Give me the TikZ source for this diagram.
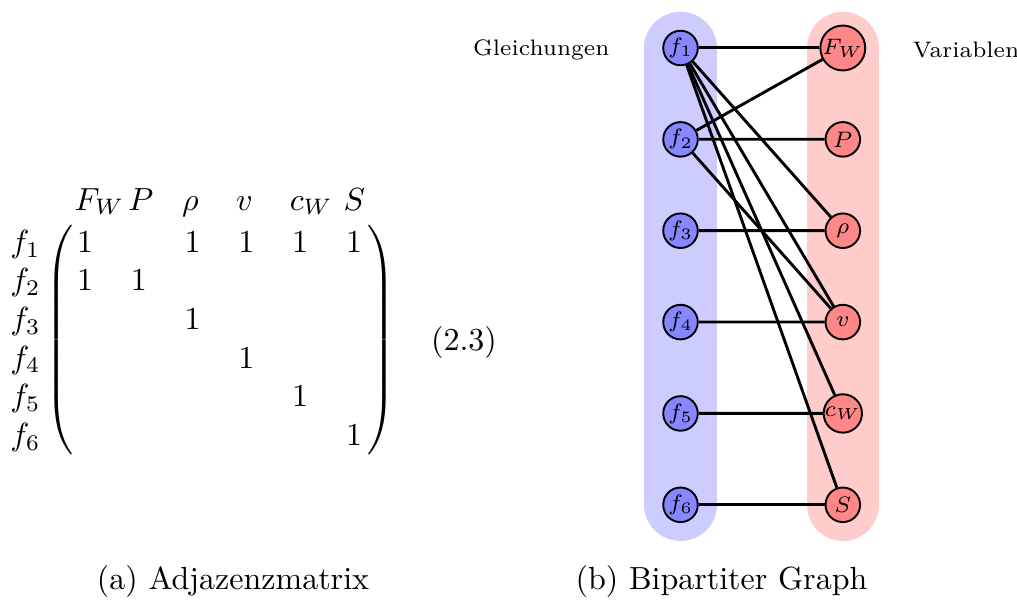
\documentclass[tikz,border=0pt]{standalone}
\usepackage{amsmath, amssymb}
\usepackage{tikz}
\usetikzlibrary{arrows.meta, positioning, calc}

\tikzset{
  gleichungsknoten/.style={circle, draw, semithick, fill=blue!47, minimum size=10.8pt, inner sep=0pt, font=\scriptsize},
  variablenknoten/.style={circle, draw, semithick, fill=red!47, minimum size=10.8pt, inner sep=0pt, font=\scriptsize},
  kante/.style={line width=0.9pt},
  eintrag/.style={inner sep=0pt},
}

\begin{document}
\begin{tikzpicture}[scale=1.0983, every node/.style={font=\normalsize}]
  \useasboundingbox (0,0) rectangle (10.17,6);

  % Column heads
  \foreach \name [count=\j from 0] in {F_W, P, \rho, v, c_W, S}
    \node[eintrag, anchor=base west] (col\j) at ({0.74+0.538*\j}, 3.90) {$\name$};

  % Row heads
  \foreach \i in {1,...,6}
    \node[eintrag, anchor=base east] (row\i) at (0.41, {3.477-0.386*(\i-1)}) {$f_\i$};

  % Entries
  \foreach \i/\j in {1/1, 1/3, 1/4, 1/5, 1/6, 2/1, 2/2, 3/3, 4/4, 5/5, 6/6}
    \node[eintrag, anchor=base] (e\i\j) at ({0.85+0.538*(\j-1)}, {3.477-0.386*(\i-1)}) {$1$};

  % Delimiters
  \node[eintrag] (lparen) at (0.59, 2.60)
    {{\delimitershortfall=0pt\nulldelimiterspace=0pt$\left(\vcenter{\hbox{\rule{0pt}{72pt}}}\right.$}};
  \node[eintrag] (rparen) at (3.81, 2.60)
    {{\delimitershortfall=0pt\nulldelimiterspace=0pt$\left.\vcenter{\hbox{\rule{0pt}{72pt}}}\right)$}};

  % Equation number
  \node[anchor=base] (eqno) at (4.64, 2.50) {(2.3)};

  % Captions
  \node[anchor=base] (capa) at (2.33, 0.11) {(a) Adjazenzmatrix};
  \node[anchor=base] (capb) at (7.215, 0.11) {(b) Bipartiter Graph};

  % Bands
  \draw[line width=22.6pt, line cap=round, blue!20] (6.805, 5.52) -- (6.805, 0.952);
  \draw[line width=22.6pt, line cap=round, red!20] (8.428, 5.52) -- (8.428, 0.952);

  % Equations
  \foreach \i in {1,...,6}
    \node[gleichungsknoten] (f\i) at (6.805, {5.52-0.9136*(\i-1)}) {$f_\i$};

  % Variables
  \foreach \name/\lab [count=\i] in {FW/F_W, P/P, rho/\rho, v/v, cW/c_W, S/S}
    \node[variablenknoten] (\name) at (8.428, {5.52-0.9136*(\i-1)}) {$\lab$};

  % Edges
  \foreach \a/\b in {f1/FW, f1/rho, f1/v, f1/cW, f1/S, f2/FW, f2/P, f2/v, f3/rho, f4/v, f5/cW, f6/S}
    \draw[kante] (\a) -- (\b);

  % Group labels
  \node[anchor=base, font=\scriptsize] (gleichungen) at (5.413, 5.45) {Gleichungen};
  \node[anchor=base, font=\scriptsize] (variablen) at (9.66, 5.427) {Variablen};
\end{tikzpicture}
\end{document}
